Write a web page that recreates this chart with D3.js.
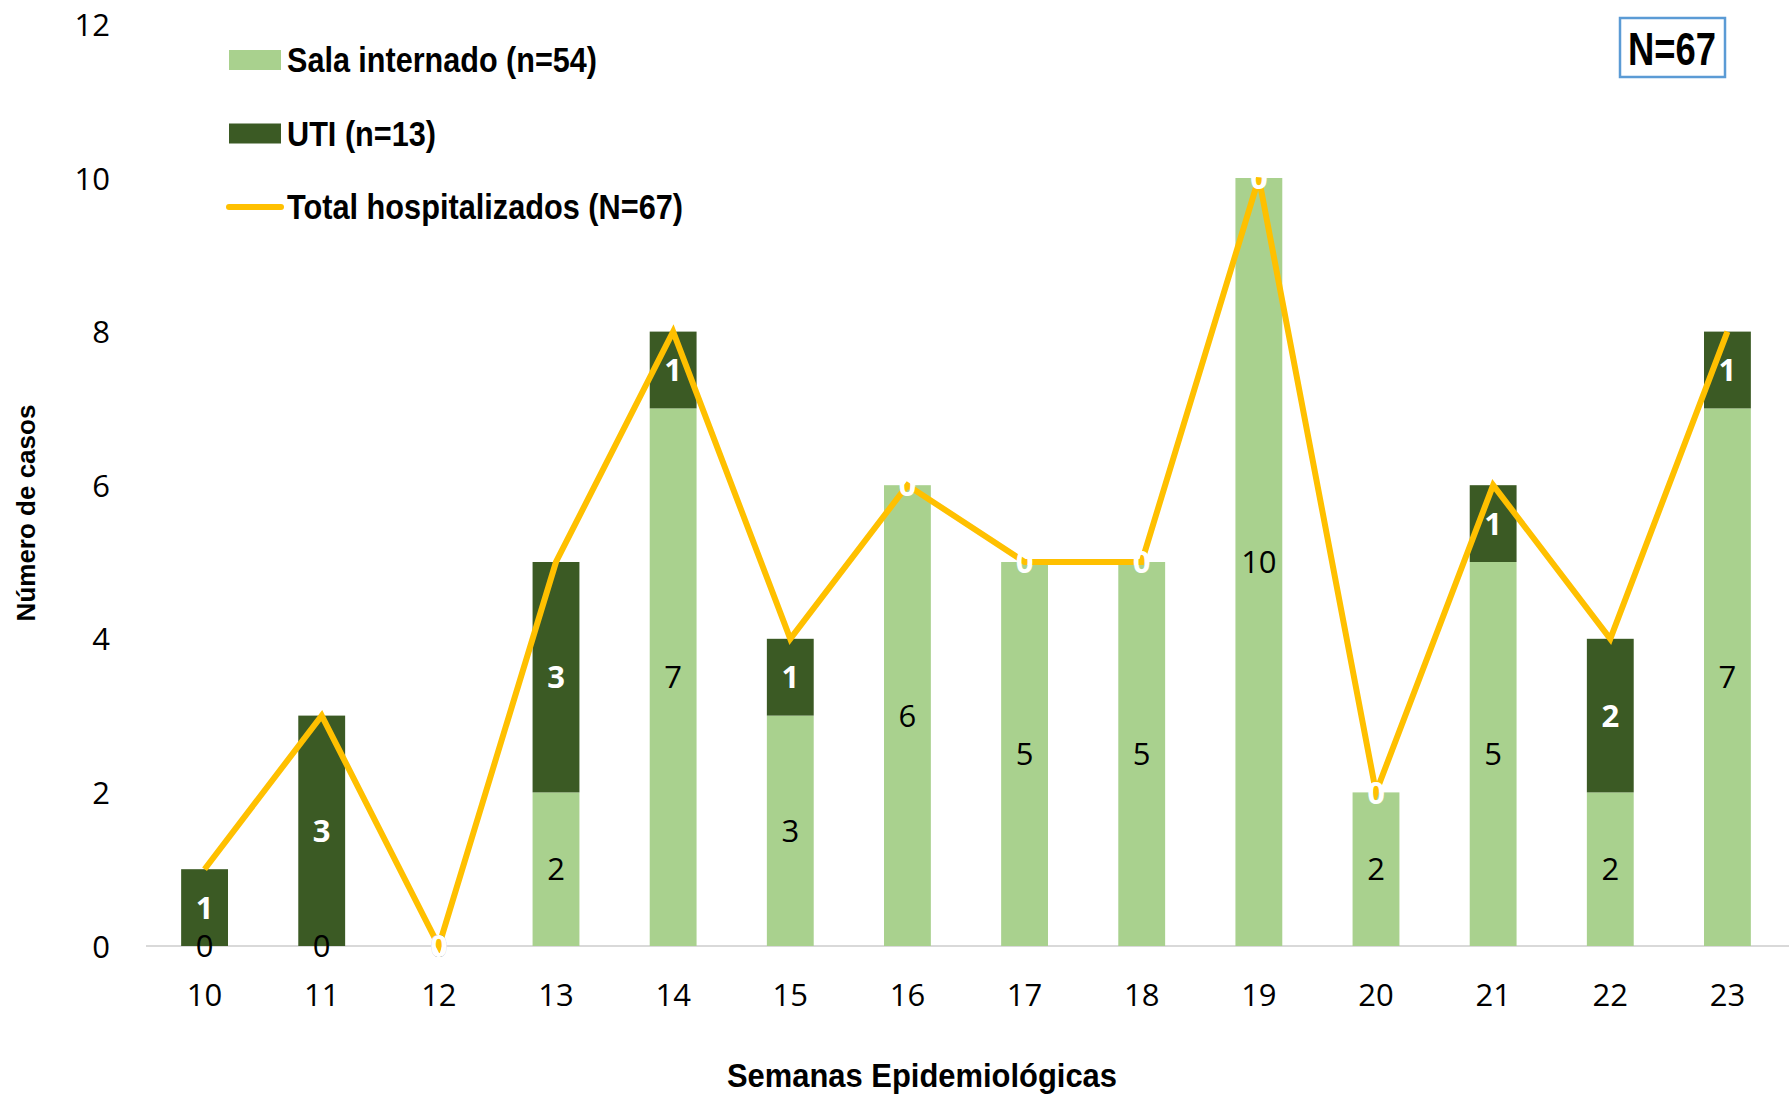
<!DOCTYPE html>
<html>
<head>
<meta charset="utf-8">
<script src="https://cdn.jsdelivr.net/npm/d3@7"></script>
<style>
  body { margin: 0; background: #fff; }
  .narrow { font-family: "Liberation Sans Narrow", "Arial Narrow", "Liberation Sans", Arial, sans-serif; font-weight: bold; }
  .num { font-family: "Open Sans", "Noto Sans", sans-serif; }
</style>
</head>
<body>
<svg id="chart" width="1789" height="1097"></svg>
<script>
// datos
var semanas = [10, 11, 12, 13, 14, 15, 16, 17, 18, 19, 20, 21, 22, 23];
var sala = [0, 0, 0, 2, 7, 3, 6, 5, 5, 10, 2, 5, 2, 7];
var uti = [1, 3, 0, 3, 1, 1, 0, 0, 0, 0, 0, 1, 2, 1];
var total = [1, 3, 0, 5, 8, 4, 6, 5, 5, 10, 2, 6, 4, 8];
var yTicks = [0, 2, 4, 6, 8, 10, 12];

var colSala = "#A9D18E", colUti = "#3B5A24", colTotal = "#FFC000";

var svg = d3.select("#chart");

var x = d3.scaleBand()
    .domain(semanas)
    .range([146, 1786])
    .paddingInner(0.6)
    .paddingOuter(0.3);

var y = d3.scaleLinear()
    .domain([0, 12])
    .range([946, 24.4]);

// eje x (linea base gris)
svg.append("line")
    .attr("x1", 146).attr("x2", 1789)
    .attr("y1", y(0)).attr("y2", y(0))
    .attr("stroke", "#D9D9D9").attr("stroke-width", 2);

// barras
var bars = svg.append("g");
bars.selectAll(".sala")
    .data(semanas)
    .enter().append("rect")
    .attr("x", function(d) { return x(d); })
    .attr("width", x.bandwidth())
    .attr("y", function(d, i) { return y(sala[i]); })
    .attr("height", function(d, i) { return y(0) - y(sala[i]); })
    .attr("fill", colSala);

bars.selectAll(".uti")
    .data(semanas)
    .enter().append("rect")
    .attr("x", function(d) { return x(d); })
    .attr("width", x.bandwidth())
    .attr("y", function(d, i) { return y(sala[i] + uti[i]); })
    .attr("height", function(d, i) { return y(sala[i]) - y(sala[i] + uti[i]); })
    .attr("fill", colUti);

// linea total
var line = d3.line()
    .x(function(d, i) { return x(semanas[i]) + x.bandwidth() / 2; })
    .y(function(d) { return y(d); });

svg.append("path")
    .datum(total)
    .attr("d", line)
    .attr("fill", "none")
    .attr("stroke", colTotal)
    .attr("stroke-width", 6)
    .attr("stroke-linejoin", "miter");

// etiquetas de datos
svg.append("g").selectAll("text")
    .data(semanas)
    .enter().append("text")
    .attr("class", "num")
    .attr("x", function(d) { return x(d) + x.bandwidth() / 2; })
    .attr("y", function(d, i) { return y(sala[i] / 2); })
    .attr("dy", "0.36em")
    .attr("text-anchor", "middle")
    .attr("font-size", 31)
    .attr("fill", "#000")
    .text(function(d, i) { return sala[i]; });

svg.append("g").selectAll("text")
    .data(semanas)
    .enter().append("text")
    .attr("class", "num")
    .attr("x", function(d) { return x(d) + x.bandwidth() / 2; })
    .attr("y", function(d, i) { return y(sala[i] + uti[i] / 2); })
    .attr("dy", "0.36em")
    .attr("text-anchor", "middle")
    .attr("font-size", 31)
    .attr("font-weight", "bold")
    .attr("fill", "#fff")
    .text(function(d, i) { return uti[i]; });

// eje y
var yAxis = d3.axisLeft(y).tickValues(yTicks).tickSize(0).tickPadding(0);
var gy = svg.append("g")
    .attr("transform", "translate(110,0)")
    .call(yAxis);
gy.select(".domain").remove();
gy.selectAll("text")
    .attr("class", "num")
    .attr("font-size", 31)
    .attr("fill", "#000")
    .attr("dy", "0.36em");

// eje x
var xAxis = d3.axisBottom(x).tickSize(0).tickPadding(0);
var gx = svg.append("g")
    .attr("transform", "translate(0,995)")
    .call(xAxis);
gx.select(".domain").remove();
gx.selectAll("text")
    .attr("class", "num")
    .attr("font-size", 31)
    .attr("fill", "#000")
    .attr("dy", "0.36em");

// titulos de ejes (fuente angosta simulada con textLength)
svg.append("text")
    .attr("class", "narrow")
    .attr("x", 922).attr("y", 1075)
    .attr("dy", "0.35em")
    .attr("text-anchor", "middle")
    .attr("font-size", 34)
    .attr("textLength", 390)
    .attr("lengthAdjust", "spacingAndGlyphs")
    .text("Semanas Epidemiológicas");

svg.append("text")
    .attr("font-family", "Liberation Sans, Arial, sans-serif")
    .attr("font-weight", "bold")
    .attr("transform", "translate(26,513) rotate(-90)")
    .attr("dy", "0.35em")
    .attr("text-anchor", "middle")
    .attr("font-size", 26)
    .text("Número de casos");

// leyenda
var leyenda = [
  { nombre: "Sala internado (n=54)", color: colSala, tipo: "rect", ancho: 310 },
  { nombre: "UTI (n=13)", color: colUti, tipo: "rect", ancho: 149 },
  { nombre: "Total hospitalizados (N=67)", color: colTotal, tipo: "line", ancho: 396 }
];
var lg = svg.append("g");
leyenda.forEach(function(d, i) {
  var cy = 60 + i * 73.5;
  if (d.tipo == "rect") {
    lg.append("rect")
      .attr("x", 229).attr("y", cy - 10)
      .attr("width", 52).attr("height", 20)
      .attr("fill", d.color);
  } else {
    lg.append("line")
      .attr("x1", 229).attr("x2", 281)
      .attr("y1", cy).attr("y2", cy)
      .attr("stroke", d.color).attr("stroke-width", 6)
      .attr("stroke-linecap", "round");
  }
  lg.append("text")
    .attr("class", "narrow")
    .attr("x", 287).attr("y", cy)
    .attr("dy", "0.35em")
    .attr("font-size", 35)
    .attr("textLength", d.ancho)
    .attr("lengthAdjust", "spacingAndGlyphs")
    .text(d.nombre);
});

// caja N=67
svg.append("rect")
  .attr("x", 1620).attr("y", 18)
  .attr("width", 105).attr("height", 59)
  .attr("fill", "#fff")
  .attr("stroke", "#5B9BD5").attr("stroke-width", 2.5);
svg.append("text")
  .attr("class", "narrow")
  .attr("x", 1672).attr("y", 48)
  .attr("dy", "0.36em")
  .attr("text-anchor", "middle")
  .attr("font-size", 46)
  .attr("textLength", 88)
  .attr("lengthAdjust", "spacingAndGlyphs")
  .text("N=67");
</script>
</body>
</html>
